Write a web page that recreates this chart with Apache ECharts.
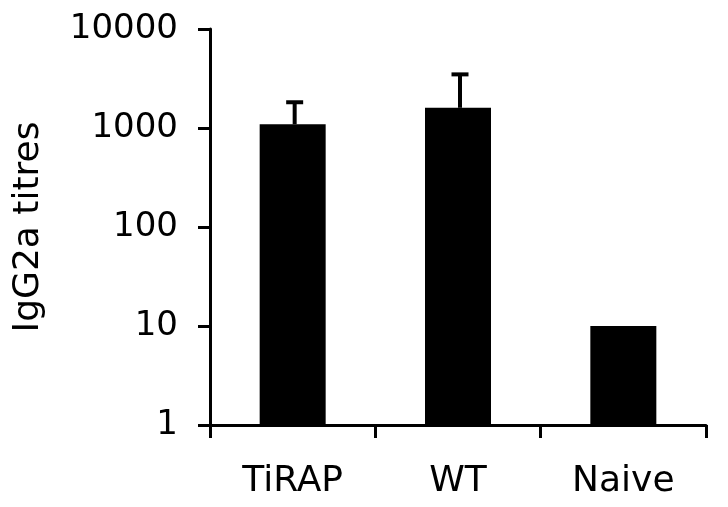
<!DOCTYPE html>
<html>
<head>
<meta charset="utf-8">
<script src="https://cdn.jsdelivr.net/npm/echarts@6/dist/echarts.min.js"></script>
<style>html,body{margin:0;padding:0;background:#fff}#c{width:728px;height:507px}</style>
</head>
<body>
<div id="c"></div>
<script>
var categories = ['TiRAP', 'WT', 'Naive'];
var titres = [1090, 1600, 10];
var errorUpper = [1820, 3480, null];
var yTicks = [1, 10, 100, 1000, 10000];

var chart = echarts.init(document.getElementById('c'), null, {renderer: 'canvas'});
var font = 'DejaVu Sans';
var errData = categories.map(function (c, i) { return [i, titres[i], errorUpper[i]]; }).filter(function (d) { return d[2] != null; });

chart.setOption({
  animation: false,
  backgroundColor: '#fff',
  grid: {left: 210, right: 22, top: 29, bottom: 82, containLabel: false},
  xAxis: {
    type: 'category',
    data: categories,
    axisLine: {lineStyle: {color: '#000', width: 3}},
    axisTick: {show: true, length: 13, lineStyle: {color: '#000', width: 3}},
    axisLabel: {color: '#000', fontFamily: font, fontSize: 36, margin: 39}
  },
  yAxis: {
    type: 'log',
    logBase: 10,
    min: yTicks[0],
    max: yTicks[yTicks.length - 1],
    name: 'IgG2a titres',
    nameLocation: 'middle',
    nameGap: 163,
    nameRotate: 90,
    nameTextStyle: {color: '#000', fontFamily: font, fontSize: 36},
    axisLine: {show: true, lineStyle: {color: '#000', width: 3}},
    axisTick: {show: true, length: 12, lineStyle: {color: '#000', width: 3}},
    minorTick: {show: false},
    splitLine: {show: false},
    axisLabel: {color: '#000', fontFamily: font, fontSize: 34, margin: 32, formatter: function (v) { return String(Math.round(v)); }}
  },
  series: [
    {
      type: 'bar',
      data: titres,
      barWidth: 66,
      itemStyle: {color: '#000'}
    },
    {
      type: 'custom',
      data: errData,
      z: 1,
      renderItem: function (params, api) {
        var x = api.value(0);
        var base = api.coord([x, api.value(1)]);
        var top = api.coord([x, api.value(2)]);
        var hw = 8.5;
        return {
          type: 'group',
          children: [
            {type: 'line', shape: {x1: base[0] + 2, y1: base[1], x2: top[0] + 2, y2: top[1]}, style: {stroke: '#000', lineWidth: 4}},
            {type: 'line', shape: {x1: top[0] + 2 - hw, y1: top[1], x2: top[0] + 2 + hw, y2: top[1]}, style: {stroke: '#000', lineWidth: 4}}
          ]
        };
      }
    }
  ]
});
</script>
</body>
</html>
